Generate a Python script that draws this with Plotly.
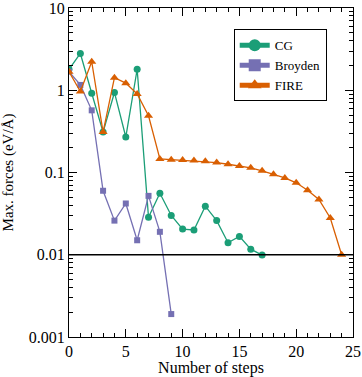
import plotly.graph_objects as go

steps_cg = list(range(0, 18))
cg = [1.8, 2.8, 0.92, 0.31, 0.94, 0.27, 1.8, 0.0285, 0.056, 0.030, 0.0205, 0.020,
      0.039, 0.026, 0.014, 0.0167, 0.0117, 0.0099]
steps_broyden = list(range(0, 10))
broyden = [1.68, 1.16, 0.57, 0.060, 0.026, 0.042, 0.015, 0.052, 0.019, 0.0019]
steps_fire = list(range(0, 25))
fire = [1.68, 0.965, 2.22, 0.31, 1.42, 1.22, 0.90, 0.49, 0.146, 0.143, 0.142, 0.14,
        0.137, 0.132, 0.126, 0.12, 0.114, 0.105, 0.095, 0.086, 0.075, 0.061, 0.047,
        0.028, 0.0100]
threshold = 0.01

GREEN = "#1b9e77"
PURPLE = "#7570b3"
ORANGE = "#d95f02"
FONT = "Liberation Serif, Times New Roman, serif"

fig = go.Figure()
fig.add_trace(go.Scatter(x=steps_cg, y=cg, name="CG", mode="lines+markers",
                         line=dict(color=GREEN, width=1.3),
                         marker=dict(symbol="circle", size=7, color=GREEN)))
fig.add_trace(go.Scatter(x=steps_broyden, y=broyden, name="Broyden", mode="lines+markers",
                         line=dict(color=PURPLE, width=1.3),
                         marker=dict(symbol="square", size=6, color=PURPLE)))
fig.add_trace(go.Scatter(x=steps_fire, y=fire, name="FIRE", mode="lines+markers",
                         line=dict(color=ORANGE, width=1.3),
                         marker=dict(symbol="triangle-up", size=8, color=ORANGE)))
# invisible trace to activate mirrored tick axes (top/right)
fig.add_trace(go.Scatter(x=[None], y=[None], xaxis="x2", yaxis="y2",
                         showlegend=False, hoverinfo="skip"))

fig.add_shape(type="line", xref="paper", yref="y", x0=0, x1=1, y0=threshold, y1=threshold,
              line=dict(color="black", width=1.3))

tick_common = dict(ticks="inside", ticklen=8, tickcolor="black", tickwidth=1.2,
                   showline=True, linecolor="black", linewidth=1.3,
                   showgrid=False, zeroline=False, automargin=False,
                   ticklabeloverflow="allow")

fig.update_layout(
    width=362, height=377,
    margin=dict(l=69, r=9, t=8, b=40),
    paper_bgcolor="white", plot_bgcolor="white",
    font=dict(family=FONT, size=16, color="black"),
    showlegend=True,
    legend=dict(x=0.58, y=0.935, xanchor="left", yanchor="top",
                bordercolor="black", borderwidth=1, bgcolor="white",
                font=dict(family=FONT, size=13), tracegroupgap=0,
                itemsizing="constant", itemwidth=30),
    xaxis=dict(range=[0, 25], tickmode="linear", tick0=0, dtick=5, **tick_common,
               minor=dict(ticks="inside", ticklen=4, dtick=1, tickcolor="black", showgrid=False),
               title=dict(text="Number of steps", font=dict(family=FONT, size=16))),
    yaxis=dict(type="log", range=[-3, 1], tickmode="linear", tick0=0, dtick=1, **tick_common,
               minor=dict(ticks="inside", ticklen=4, dtick="D1", tickcolor="black", showgrid=False),
               title=dict(text="Max. forces (eV/Å)", font=dict(family=FONT, size=15))),
    xaxis2=dict(range=[0, 25], overlaying="x", side="top", anchor="y2",
                tickmode="linear", tick0=0, dtick=5, showticklabels=False, **tick_common,
                minor=dict(ticks="inside", ticklen=4, dtick=1, tickcolor="black", showgrid=False)),
    yaxis2=dict(type="log", range=[-3, 1], overlaying="y", side="right", anchor="x2",
                tickmode="linear", tick0=0, dtick=1, showticklabels=False, **tick_common,
                minor=dict(ticks="inside", ticklen=4, dtick="D1", tickcolor="black", showgrid=False)),
)

fig.write_html("out.html", config={"displayModeBar": False},
               post_script="document.body.style.margin='0';document.body.style.overflow='hidden';")
